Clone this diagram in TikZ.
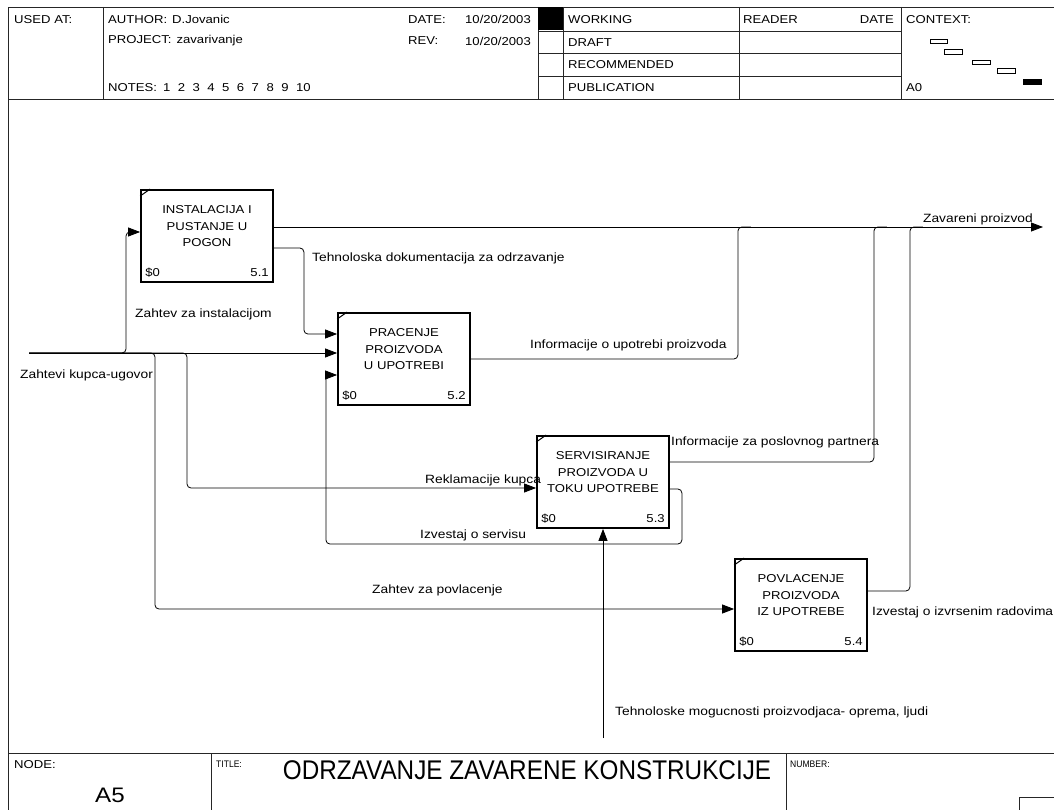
\documentclass[tikz,border=0pt]{standalone}
\usepackage{fontspec}
\setmainfont{Liberation Sans}
\newfontfamily\wf[FakeStretch=1.15]{Liberation Sans}
\newfontfamily\nf[FakeStretch=0.9]{Liberation Sans}
\usetikzlibrary{arrows.meta}
\begin{document}
\begin{tikzpicture}[x=1pt,y=-1pt,
  frame/.style={line width=0.8pt, draw=black!85},
  hd/.style={inner sep=0, anchor=west, font=\wf\fontsize{11.4}{13}\selectfont},
  sm/.style={inner sep=0, anchor=west, font=\nf\fontsize{9.5}{11}\selectfont},
  lbl/.style={inner sep=0, anchor=west, font=\wf\fontsize{12}{14}\selectfont},
  proc/.style={draw, line width=1.8pt, minimum width=132pt, minimum height=92pt, inner sep=0},
  ptext/.style={align=center, inner sep=0, font=\wf\fontsize{11.4}{16.5}\selectfont},
  flow/.style={line width=0.8pt, rounded corners=4pt},
  arr/.style={-{Triangle[length=12pt,width=9pt]}},
  ctxbox/.style={draw, line width=0.7pt}
]
\useasboundingbox[fill=white] (0,0) rectangle (1054,810);

% ---------- frame ----------
\draw[frame] (8,810) -- (8,7) -- (1054,7);
\draw[frame] (8,99) -- (1054,99);
\draw[frame] (103,7) -- (103,99);
\draw[frame] (538,7) -- (538,99);
\draw[frame] (563,7) -- (563,99);
\draw[frame] (739,7) -- (739,99);
\draw[frame] (901,7) -- (901,99);
\draw[frame] (538,31) -- (901,31);
\draw[frame] (538,53) -- (901,53);
\draw[frame] (538,76) -- (901,76);
\fill (538,7) rectangle (563,30);
% context thumbnails
\draw[ctxbox] (930,39) rectangle (947,43);
\draw[ctxbox] (944,49) rectangle (962,54);
\draw[ctxbox] (972,60) rectangle (990,64);
\draw[ctxbox] (997,68) rectangle (1015,73);
\fill (1023,79) rectangle (1042,85);

% header texts
\node[hd] (usedat) at (14,19.5) {USED AT:};
\node[hd] (author) at (108,19.5) {AUTHOR:\hspace{5pt}D.Jovanic};
\node[hd] (project) at (108,41) {PROJECT:\hspace{5pt}zavarivanje};
\node[hd] (notes) at (108,87.5) {NOTES:\hspace{6pt}1\hspace{7.5pt}2\hspace{7.5pt}3\hspace{7.5pt}4\hspace{7.5pt}5\hspace{7.5pt}6\hspace{7.5pt}7\hspace{7.5pt}8\hspace{7.5pt}9\hspace{7.5pt}10};
\node[hd] (datel) at (408,19.5) {DATE:};
\node[hd,anchor=east] (datev) at (531,19.5) {10/20/2003};
\node[hd] (revl) at (408,41) {REV:};
\node[hd,anchor=east] (revv) at (531,41) {10/20/2003};
\node[hd] (working) at (568,19.5) {WORKING};
\node[hd] (draft) at (568,42.5) {DRAFT};
\node[hd] (recom) at (568,65) {RECOMMENDED};
\node[hd] (publ) at (568,87.5) {PUBLICATION};
\node[hd] (reader) at (743,19.5) {READER};
\node[hd,anchor=east] (rdate) at (894,19.5) {DATE};
\node[hd] (context) at (906,19.5) {CONTEXT:};
\node[hd] (azero) at (906,87.5) {A0};

% ---------- title block ----------
\draw[frame] (8,753) -- (1054,753);
\draw[frame] (211,753) -- (211,810);
\draw[frame] (786,753) -- (786,810);
\draw[frame] (1019,810) -- (1019,797) -- (1054,797);
\node[hd] (nodelbl) at (14,765) {NODE:};
\node[inner sep=0, anchor=west, font=\wf\fontsize{21}{24}\selectfont] (nodeval) at (95,795) {A5};
\node[sm] (titlelbl) at (216,764) {TITLE:};
\node[inner sep=0, font=\nf\fontsize{27}{30}\selectfont] (title) at (527,770) {ODRZAVANJE ZAVARENE KONSTRUKCIJE};
\node[sm] (numlbl) at (790,764) {NUMBER:};

% ---------- activity boxes ----------
\node[proc] (b1) at (207,236) {};
\node[proc] (b2) at (404,359) {};
\node[proc] (b3) at (603,482) {};
\node[proc] (b4) at (801,605) {};
\foreach \b in {b1,b2,b3,b4}{
  \draw[line width=1pt] ([yshift=-7pt]\b.north west) -- ([xshift=10pt]\b.north west);
}
\node[ptext] (t1) at ([yshift=-37pt]b1.north) {INSTALACIJA I\\PUSTANJE U\\POGON};
\node[ptext] (t2) at ([yshift=-37pt]b2.north) {PRACENJE\\PROIZVODA\\U UPOTREBI};
\node[ptext] (t3) at ([yshift=-37pt]b3.north) {SERVISIRANJE\\PROIZVODA U\\TOKU UPOTREBE};
\node[ptext] (t4) at ([yshift=-37pt]b4.north) {POVLACENJE\\PROIZVODA\\IZ UPOTREBE};
\foreach \b/\n in {b1/5.1,b2/5.2,b3/5.3,b4/5.4}{
  \node[hd] (\b c) at ([xshift=5pt,yshift=10.5pt]\b.south west) {\$0};
  \node[hd,anchor=east] (\b n) at ([xshift=-5pt,yshift=10.5pt]\b.south east) {\n};
}

% ---------- connectors ----------
\coordinate (in) at (29,353);
\coordinate (out) at (1043,227);
\coordinate (ctl) at (603,738);

\draw[flow,arr] (in) -- ([yshift=6pt]b2.west);
\draw[flow,arr] (in) -- ++(97,0) |- ([yshift=4pt]b1.west);
\draw[flow,arr] (in) -- ++(126,0) |- ([yshift=-4pt]b4.west);
\draw[flow,arr] (in) -- ++(158,0) |- ([yshift=-6pt]b3.west);
\draw[flow,arr] ([yshift=9pt]b1.east) -- (out);
\draw[flow,arr] ([yshift=-12pt]b1.east) -- ++(30,0) |- ([yshift=25pt]b2.west);
\draw[flow] (b2.east) -- ++(267,0) -- ++(0,-132) -- ++(13,0);
\draw[flow] ([yshift=20pt]b3.east) -- ++(204,0) -- ++(0,-235) -- ++(13,0);
\draw[flow] ([yshift=14pt]b4.east) -- ++(42,0) -- ++(0,-364) -- ++(13,0);
\draw[flow,arr] ([yshift=-7pt]b3.east) -- ++(12,0) -- ++(0,55) -- ++(-356,0) |- ([yshift=-16pt]b2.west);
\draw[flow,arr] (ctl) -- (b3.south);

% ---------- connector labels ----------
\node[lbl] (l1) at (20,375) {Zahtevi kupca-ugovor};
\node[lbl] (l2) at (135,314) {Zahtev za instalacijom};
\node[lbl] (l3) at (312,258) {Tehnoloska dokumentacija za odrzavanje};
\node[lbl] (l4) at (530,345) {Informacije o upotrebi proizvoda};
\node[lbl,anchor=east] (l5) at (1033,219) {Zavareni proizvod};
\node[lbl] (l6) at (671,442) {Informacije za poslovnog partnera};
\node[lbl] (l7) at (425,480) {Reklamacije kupca};
\node[lbl] (l8) at (420,535) {Izvestaj o servisu};
\node[lbl] (l9) at (372,590) {Zahtev za povlacenje};
\node[lbl] (l10) at (872,612) {Izvestaj o izvrsenim radovima};
\node[lbl] (l11) at (615,712) {Tehnoloske mogucnosti proizvodjaca- oprema, ljudi};
\end{tikzpicture}
\end{document}
